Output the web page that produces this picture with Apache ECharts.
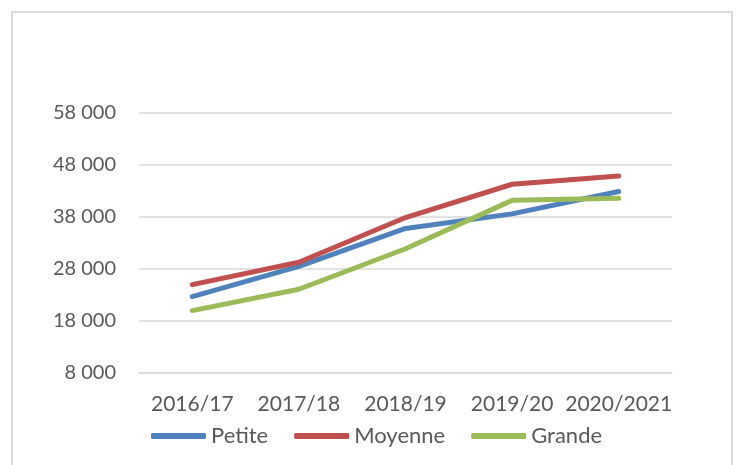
<!DOCTYPE html>
<html>
<head>
<meta charset="utf-8">
<title>Evolution par taille</title>
<script src="https://cdn.jsdelivr.net/npm/echarts@6/dist/echarts.min.js"></script>
<style>
    html, body { margin: 0; padding: 0; background: #fff; }
    #chart { width: 737px; height: 465px; }
</style>
</head>
<body>
<div id="chart"></div>
<script>
    // categories (x axis)
    var years = ['2016/17', '2017/18', '2018/19', '2019/20', '2020/2021'];

    // series values
    var petite = [22700, 28500, 35800, 38600, 42900];
    var moyenne = [25000, 29300, 37900, 44300, 45900];
    var grande = [20000, 24100, 31900, 41200, 41600];

    var seriesNames = ['Petite', 'Moyenne', 'Grande'];
    var seriesColors = ['#4f81bd', '#c0504d', '#9bbb59'];

    // y axis range
    var yMin = 8000;
    var yMax = 58000;
    var yStep = 10000;

    var textColor = '#595959';
    var fontFamily = 'Lato, "Open Sans", sans-serif';

    function spaced(v) {
        // 58000 -> "58 000"
        return String(v).replace(/\B(?=(\d{3})+(?!\d))/g, ' ');
    }

    var chart = echarts.init(document.getElementById('chart'));

    var values = [petite, moyenne, grande];
    var series = seriesNames.map(function (name, i) {
        return {
            name: name,
            type: 'line',
            data: values[i],
            symbol: 'none',
            smooth: false,
            lineStyle: { color: seriesColors[i], width: 5, cap: 'round', join: 'round' },
            itemStyle: { color: seriesColors[i] }
        };
    });

    chart.setOption({
        animation: false,
        backgroundColor: '#ffffff',
        graphic: [{
            type: 'rect',
            shape: { x: 12, y: 12, width: 720, height: 470 },
            style: { fill: 'none', stroke: '#d9d9d9', lineWidth: 2 },
            silent: true
        }],
        grid: { left: 139, right: 65, top: 113, bottom: 92 },
        legend: {
            data: seriesNames,
            left: 146,
            top: 420,
            icon: 'roundRect',
            itemWidth: 55,
            itemHeight: 6,
            itemGap: 26,
            textStyle: { color: textColor, fontSize: 22, fontFamily: fontFamily }
        },
        xAxis: {
            type: 'category',
            data: years,
            boundaryGap: true,
            axisLine: { show: true, lineStyle: { color: '#d9d9d9', width: 1.5 } },
            axisTick: { show: false },
            axisLabel: { color: textColor, fontSize: 21, fontFamily: fontFamily, margin: 21, interval: 0 }
        },
        yAxis: {
            type: 'value',
            min: yMin,
            max: yMax,
            interval: yStep,
            axisLine: { show: false },
            axisTick: { show: false },
            splitLine: { lineStyle: { color: '#d9d9d9', width: 1.5 } },
            axisLabel: {
                color: textColor, fontSize: 20, fontFamily: fontFamily, margin: 23,
                formatter: function (v) { return spaced(v); }
            }
        },
        series: series
    });
</script>
</body>
</html>
